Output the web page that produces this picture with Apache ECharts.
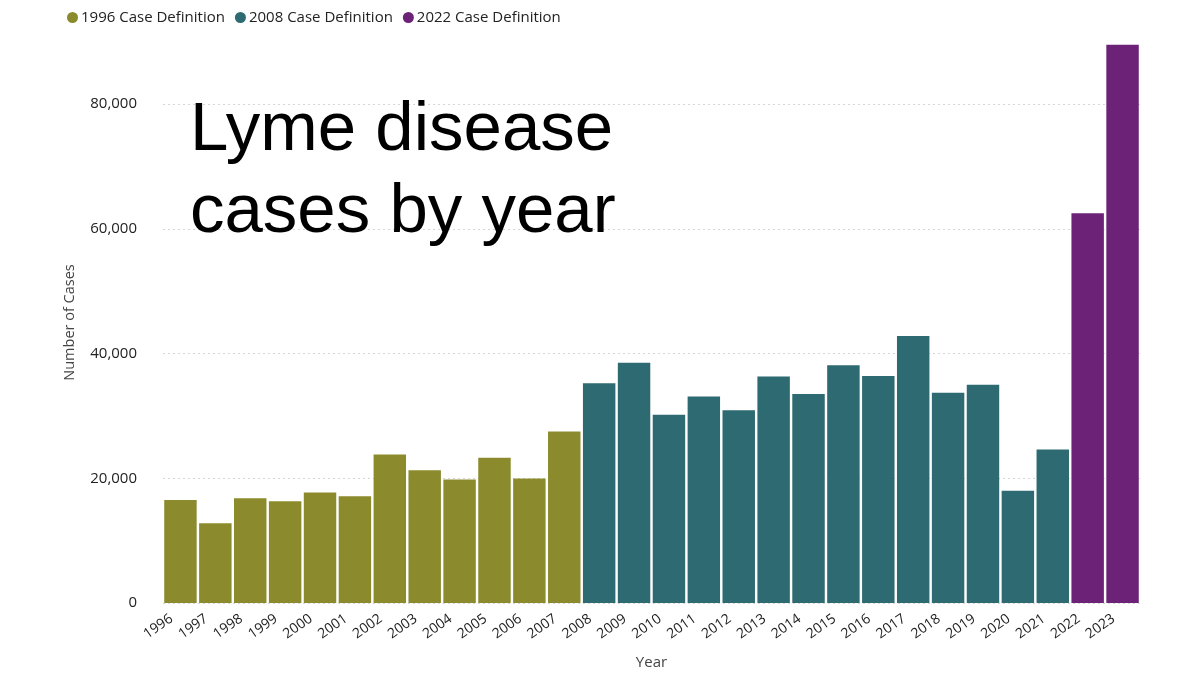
<!DOCTYPE html>
<html>
<head>
<meta charset="utf-8">
<title>Lyme disease cases by year</title>
<script src="https://cdn.jsdelivr.net/npm/echarts@6/dist/echarts.min.js"></script>
<style>
  html, body { margin: 0; padding: 0; background: #fff; }
  #main { width: 1200px; height: 675px; }
</style>
</head>
<body>
<div id="main"></div>
<script>
// data
var years = ['1996','1997','1998','1999','2000','2001','2002','2003','2004','2005',
             '2006','2007','2008','2009','2010','2011','2012','2013','2014','2015',
             '2016','2017','2018','2019','2020','2021','2022','2023'];
var def1996 = [16500, 12800, 16800, 16300, 17700, 17100, 23800, 21300, 19800, 23300, 19950, 27500];
var def2008 = [35250, 38500, 30200, 33100, 30900, 36300, 33500, 38100, 36400, 42800, 33700, 35000, 18000, 24600];
var def2022 = [62500, 89500];
var seriesNames = ['1996 Case Definition', '2008 Case Definition', '2022 Case Definition'];
var colors = ['#8b8b2d', '#2d6a71', '#6c2277'];
var yTicks = [0, 20000, 40000, 60000, 80000];

// each definition sits on its own run of years, the rest is empty
function place(values, startYear) {
    var start = years.indexOf(startYear);
    return years.map(function (y, i) {
        var v = values[i - start];
        return (i >= start && v !== undefined) ? v : '-';
    });
}

var myChart = echarts.init(document.getElementById('main'));

var font = 'Open Sans';
var option = {
    animation: false,
    color: colors,
    title: {
        text: 'Lyme disease\ncases by year',
        left: 185,
        top: 85,
        textStyle: {
            fontFamily: 'Liberation Sans',
            fontWeight: 'normal',
            fontSize: 69,
            lineHeight: 82,
            color: '#000'
        }
    },
    legend: {
        left: 62,
        top: 5,
        icon: 'circle',
        itemWidth: 11,
        itemHeight: 11,
        itemGap: 10,
        textStyle: { fontFamily: font, fontSize: 15, color: '#222', padding: [0, 0, 0, -2] },
        data: seriesNames
    },
    grid: { left: 163, right: 60, top: 104, bottom: 71 },
    xAxis: {
        type: 'category',
        data: years,
        name: 'Year',
        nameLocation: 'middle',
        nameGap: 52,
        nameTextStyle: { fontFamily: font, fontSize: 15, color: '#444' },
        axisLine: { show: false },
        axisTick: { show: false },
        axisLabel: {
            rotate: 35,
            interval: 0,
            margin: 8,
            padding: [0, 11, 0, 0],
            fontFamily: font,
            fontSize: 14,
            color: '#222'
        }
    },
    yAxis: {
        type: 'value',
        min: 0,
        max: yTicks[yTicks.length - 1],
        interval: 20000,
        name: 'Number of Cases',
        nameLocation: 'middle',
        nameGap: 86,
        nameTextStyle: { fontFamily: font, fontSize: 14.5, color: '#444', padding: [0, 0, 0, 62] },
        axisLine: { show: false },
        axisTick: { show: false },
        axisLabel: {
            margin: 26,
            fontFamily: font,
            fontSize: 15,
            color: '#222',
            formatter: function (v) { return v.toLocaleString('en-US'); }
        },
        splitLine: { lineStyle: { color: '#d6d6d6', type: [2, 3], width: 1 } }
    },
    series: [
        { name: seriesNames[0], type: 'bar', stack: 'all', clip: false, barCategoryGap: '7%', data: place(def1996, '1996') },
        { name: seriesNames[1], type: 'bar', stack: 'all', clip: false, barCategoryGap: '7%', data: place(def2008, '2008') },
        { name: seriesNames[2], type: 'bar', stack: 'all', clip: false, barCategoryGap: '7%', data: place(def2022, '2022') }
    ]
};

myChart.setOption(option);
</script>
</body>
</html>
